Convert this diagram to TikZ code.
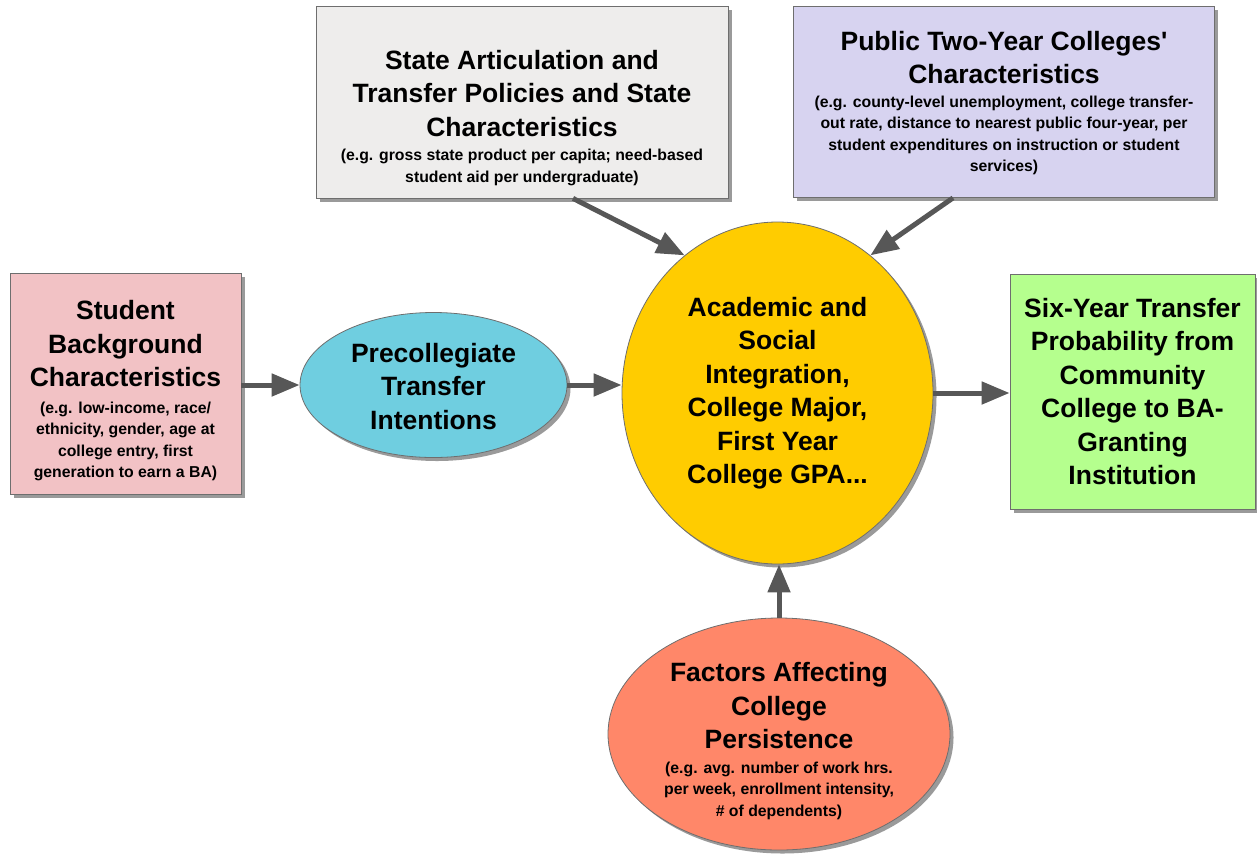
\documentclass[tikz,border=0pt]{standalone}
\usepackage{fontspec}
\setmainfont{Liberation Sans}[Ligatures=TeXOff]
\usetikzlibrary{arrows.meta,shapes.geometric,shadows,calc}
\definecolor{cpink}{HTML}{F2C2C5}
\definecolor{ccyan}{HTML}{6FCEE0}
\definecolor{cgold}{HTML}{FFCC00}
\definecolor{cgreen}{HTML}{B5FF8E}
\definecolor{cgray}{HTML}{EEEDEC}
\definecolor{clav}{HTML}{D7D3F0}
\definecolor{csalmon}{HTML}{FF8769}
\definecolor{bordergray}{HTML}{6E6E6E}
\definecolor{arrowgray}{HTML}{575757}
\definecolor{shadowgray}{HTML}{9A9A9A}
\newcommand{\mytitle}{\fontsize{26.5}{33.5}\selectfont}
\newcommand{\mysub}{\fontsize{15.8}{21.5}\selectfont}
\newcommand{\ctext}[2]{\parbox{#1}{\centering #2\par}}
\tikzset{
  base/.style={draw=bordergray, line width=0.8pt, inner sep=0pt, font=\bfseries\mytitle,
    drop shadow={shadow xshift=3.5pt, shadow yshift=-3.5pt, fill=shadowgray, opacity=1}},
  box/.style={base, rectangle},
  ell/.style={base, ellipse},
  arr/.style={draw=arrowgray, line width=5pt, -{Triangle[length=28pt,width=22pt]}}
}
\begin{document}
\begin{tikzpicture}[x=1pt,y=-1pt]
\useasboundingbox (0,0) rectangle (1257,855);
\node[box, fill=cpink, minimum width=231pt, minimum height=221pt] (stud) at (125.5,384)
  {\ctext{220pt}{\vspace*{14pt}\mytitle Student\\Background\\Characteristics\par\vspace{5pt}\mysub (e.g. low-income, race/\\ethnicity, gender, age at\\college entry, first\\generation to earn a BA)}};
\node[box, fill=cgray, minimum width=412pt, minimum height=192pt] (state) at (522,102)
  {\ctext{400pt}{\vspace*{32pt}\mytitle State Articulation and\\Transfer Policies and State\\Characteristics\par\vspace{3pt}\mysub (e.g. gross state product per capita; need-based\\student aid per undergraduate)}};
\node[box, fill=clav, minimum width=421pt, minimum height=191pt] (pub) at (1004,102)
  {\ctext{410pt}{\vspace*{2pt}\mytitle Public Two-Year Colleges'\\Characteristics\par\vspace{2pt}\mysub (e.g. county-level unemployment, college transfer-\\out rate, distance to nearest public four-year, per\\student expenditures on instruction or student\\services)}};
\node[box, fill=cgreen, minimum width=245pt, minimum height=235pt] (six) at (1132.5,391.5)
  {\ctext{235pt}{\mytitle Six-Year Transfer\\Probability from\\Community\\College to BA-\\Granting\\Institution}};
\node[ell, fill=ccyan, minimum width=267pt, minimum height=145pt] (prec) at (433.5,385)
  {\ctext{175pt}{\vspace*{3pt}\mytitle Precollegiate\\Transfer\\Intentions}};
\node[ell, fill=cgold, minimum width=311pt, minimum height=342pt] (cent) at (777.5,393)
  {\ctext{200pt}{\mytitle Academic and\\Social\\Integration,\\College Major,\\First Year\\College GPA...}};
\node[ell, fill=csalmon, minimum width=342pt, minimum height=232pt, inner sep=-30pt] (fact) at (779,734)
  {\ctext{260pt}{\vspace*{14pt}\mytitle Factors Affecting\\College\\Persistence\par\vspace{3pt}\mysub (e.g. avg. number of work hrs.\\per week, enrollment intensity,\\\# of dependents)}};
\draw[arr] (stud.east |- prec.center) -- (prec);
\draw[arr] (prec.east) -- (prec.east -| cent.west);
\draw[arr] (cent.east) -- (cent.east -| six.west);
\draw[arr] (fact.north) -- (fact.north |- cent.south);
\draw[arr] ($(state.south)+(51,0)$) -- (cent.124);
\draw[arr] ($(pub.south)+(-51,0)$) -- (cent.56);
\end{tikzpicture}
\end{document}
